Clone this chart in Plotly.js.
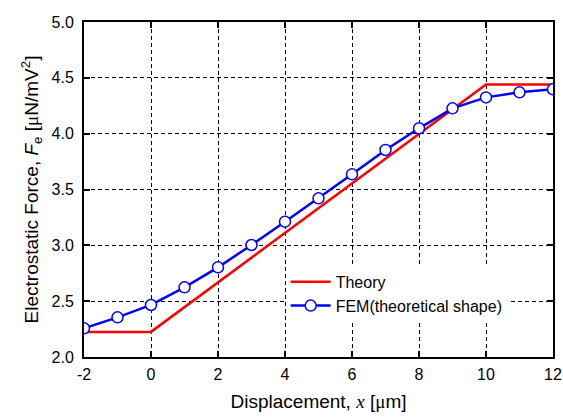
<!DOCTYPE html>
<html>
<head>
<meta charset="utf-8">
<script src="https://cdn.plot.ly/plotly-3.0.1.min.js"></script>
<style>html,body{margin:0;padding:0;background:#fff;}#chart{width:563px;height:417px;}</style>
</head>
<body>
<div id="chart"></div>
<script>
var theoryX = [-2, 0, 10, 12];
var theoryY = [2.225, 2.225, 4.44, 4.44];
var femX = [-2, -1, 0, 1, 2, 3, 4, 5, 6, 7, 8, 9, 10, 11, 12];
var femY = [2.257, 2.355, 2.466, 2.624, 2.803, 3.003, 3.212, 3.421, 3.636, 3.854, 4.048, 4.227, 4.325, 4.37, 4.397];
var xTicks = [-2, 0, 2, 4, 6, 8, 10, 12];
var yTicks = [2.0, 2.5, 3.0, 3.5, 4.0, 4.5, 5.0];

var traces = [
  {x: theoryX, y: theoryY, mode: 'lines', name: 'Theory',
   line: {color: '#ff0000', width: 2.5}},
  {x: femX, y: femY, mode: 'lines+markers', name: 'FEM(theoretical shape)',
   line: {color: '#0000ff', width: 2.5},
   marker: {symbol: 'circle', size: 11, color: '#ffffff', line: {color: '#0000ff', width: 1.5}}}
];

var axisCommon = {
  showline: true, linecolor: '#000', linewidth: 2, mirror: 'ticks',
  ticks: 'inside', ticklen: 6, tickwidth: 2, tickcolor: '#000',
  showgrid: true, gridcolor: '#000', gridwidth: 1, griddash: '4px,3px',
  zeroline: false,
  tickfont: {family: 'Arial, Liberation Sans, sans-serif', size: 16, color: '#000'}
};

var layout = {
  width: 563, height: 417,
  margin: {l: 84, r: 10, t: 22, b: 60},
  paper_bgcolor: '#fff', plot_bgcolor: '#fff',
  showlegend: true,
  legend: {x: 0.43, y: 0.275, xanchor: 'left', yanchor: 'top', bgcolor: '#fff',
           borderwidth: 0, itemwidth: 40, tracegroupgap: 0,
           font: {family: 'Arial, Liberation Sans, sans-serif', size: 16, color: '#000'}},
  xaxis: Object.assign({}, axisCommon, {
    range: [-2, 12], tickvals: xTicks, ticktext: xTicks.map(String), ticklabelstandoff: 2,
    title: {text: 'Displacement, <i><span style="font-family:Liberation Serif, serif">x</span></i> [<span style="font-family:Liberation Serif, serif">μ</span>m]',
            font: {family: 'Arial, Liberation Sans, sans-serif', size: 19, color: '#000'}, standoff: 12}
  }),
  yaxis: Object.assign({}, axisCommon, {
    range: [2.0, 5.0], tickvals: yTicks, ticktext: yTicks.map(function(v){return v.toFixed(1);}),
    ticklabelstandoff: 5,
    title: {text: 'Electrostatic Force, <i>F</i><sub>e</sub> [<span style="font-family:Liberation Serif, serif">μ</span>N/mV<sup>2</sup>]',
            font: {family: 'Arial, Liberation Sans, sans-serif', size: 19, color: '#000'}, standoff: 8}
  })
};

Plotly.newPlot('chart', traces, layout, {displayModeBar: false, staticPlot: true});
</script>
</body>
</html>
